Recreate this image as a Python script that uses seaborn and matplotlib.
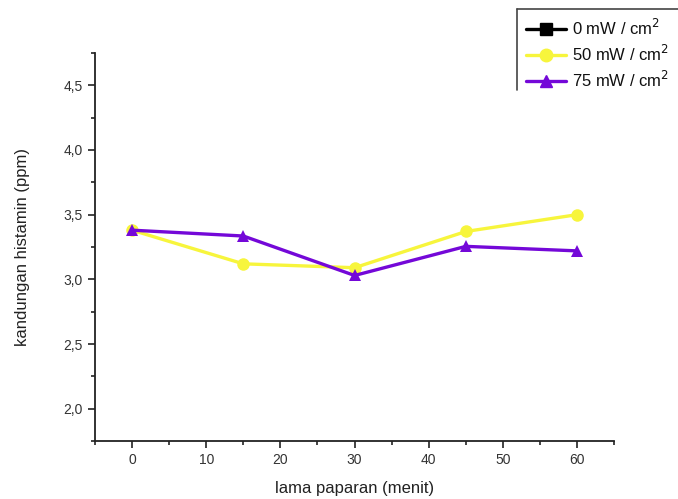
import matplotlib
matplotlib.use('Agg')
import matplotlib.pyplot as plt
import pandas as pd
import seaborn as sns
from matplotlib.lines import Line2D
from matplotlib.ticker import MultipleLocator, FuncFormatter

# Data
waktu = [0, 15, 30, 45, 60]
nol_x = [0]
nol_y = [3.38]
lima_puluh = [3.38, 3.12, 3.09, 3.37, 3.50]
tujuh_lima = [3.38, 3.335, 3.03, 3.255, 3.22]
labels = ['0 mW / cm$^2$', '50 mW / cm$^2$', '75 mW / cm$^2$']

df = pd.DataFrame({
    'waktu': nol_x + waktu + waktu,
    'nilai': nol_y + lima_puluh + tujuh_lima,
    'seri': [labels[0]] * len(nol_x) + [labels[1]] * len(waktu) + [labels[2]] * len(waktu),
})

sns.set_style('ticks')
plt.rcParams['font.family'] = ['Liberation Sans', 'DejaVu Sans']

fig = plt.figure(figsize=(6.78, 4.99), dpi=100)
ax = fig.add_axes([0.140, 0.116, 0.766, 0.778])

sns.lineplot(data=df, x='waktu', y='nilai', hue='seri', style='seri',
             hue_order=labels, style_order=labels,
             palette=['black', '#f7f53c', '#7408d8'],
             markers=['s', 'o', '^'], dashes=False,
             markersize=9, markeredgewidth=0, linewidth=2.4,
             ax=ax, legend=False)
# the black point sits almost completely under the purple triangle
ax.lines[0].set_markersize(5)

ax.set_xlim(-5, 65)
ax.set_ylim(1.75, 4.75)
ax.xaxis.set_major_locator(MultipleLocator(10))
ax.xaxis.set_minor_locator(MultipleLocator(5))
ax.yaxis.set_major_locator(MultipleLocator(0.5))
ax.yaxis.set_minor_locator(MultipleLocator(0.25))
ax.yaxis.set_major_formatter(FuncFormatter(lambda v, p: f'{v:.1f}'.replace('.', ',')))
ax.tick_params(which='major', direction='out', length=5, width=1.2, labelsize=10, colors='#222', labelcolor='#333')
ax.tick_params(which='minor', direction='out', length=3, width=1.2, colors='#222')
for s in ['top', 'right']:
    ax.spines[s].set_visible(False)
for s in ['left', 'bottom']:
    ax.spines[s].set_linewidth(1.3)
    ax.spines[s].set_color('#222')

ax.set_xlabel('lama paparan (menit)', fontsize=12, color='#222', labelpad=10)
ax.set_ylabel('kandungan histamin (ppm)', fontsize=12, color='#222', labelpad=24)

# legend, cropped at the right edge like the source
handles = [
    Line2D([], [], color='black', marker='s', markersize=8, linewidth=2.4),
    Line2D([], [], color='#f7f53c', marker='o', markersize=9, linewidth=2.4),
    Line2D([], [], color='#7408d8', marker='^', markersize=9, linewidth=2.4),
]
fig.legend(handles, labels, loc='upper left', bbox_to_anchor=(526 / 678, 1 - 18 / 499),
           frameon=False, fontsize=12, handlelength=2.4, handletextpad=0.35,
           labelspacing=0.35, borderpad=0, borderaxespad=0, labelcolor='#111')
fig.add_artist(Line2D([517 / 678, 1.0], [1 - 9 / 499, 1 - 9 / 499], color='#444', linewidth=1.2))
fig.add_artist(Line2D([517 / 678, 517 / 678], [1 - 9 / 499, 1 - 90 / 499], color='#444', linewidth=1.2))

fig.savefig('out.png', dpi=100)
